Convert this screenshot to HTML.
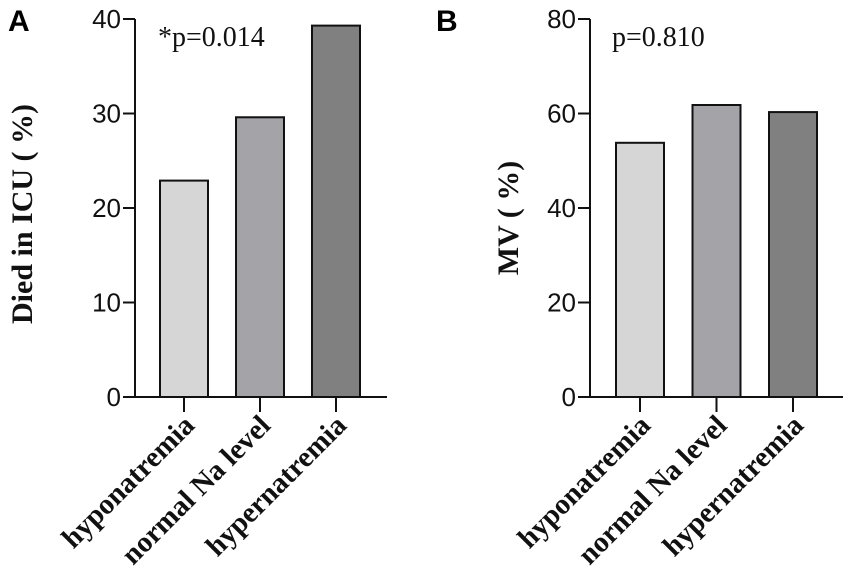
<!DOCTYPE html>
<html><head><meta charset="utf-8"><style>
body{margin:0;background:#fff}
svg{display:block}
.tick{font-family:"Liberation Sans",sans-serif;font-size:26px;fill:#111}
.cat{font-family:"Liberation Serif",serif;font-weight:bold;font-size:29px;fill:#111}
.ttl{font-family:"Liberation Serif","Noto Serif CJK SC",serif;font-weight:bold;font-size:30px;fill:#111}
.p{font-family:"Liberation Serif",serif;font-size:28px;fill:#111}
.lab{font-family:"Liberation Sans",sans-serif;font-weight:bold;font-size:30px;fill:#000}
</style></head><body>
<svg id="c" width="851" height="583"></svg>
<script>
const categories=["hyponatremia","normal Na level","hypernatremia"];
const valuesA=[22.9,29.6,39.3];
const valuesB=[53.8,61.8,60.3];
const ticksA=[0,10,20,30,40];
const ticksB=[0,20,40,60,80];
const colors=["#d6d6d6","#a3a3a8","#808080"];
const NS="http://www.w3.org/2000/svg";
const svg=document.getElementById('c');
function mk(t,a,txt){const e=document.createElementNS(NS,t);for(const k in a)e.setAttribute(k,a[k]);if(txt!=null)e.textContent=txt;svg.appendChild(e);return e;}
function panel(p){
  const y=v=>p.y0-(v/p.max)*(p.y0-p.yTop);
  const x=i=>p.x0+p.first+i*p.step;
  let e;
  p.vals.forEach((v,i)=>{
    e=mk('rect',{x:x(i)-24,y:y(v),width:48,height:y(0)-y(v),fill:colors[i],stroke:'#111','stroke-width':2});
    
    
  });
  e=mk('line',{x1:p.x0,y1:p.yTop,x2:p.x0,y2:p.y0+1,stroke:'#111','stroke-width':2});
  
  
  e=mk('line',{x1:p.x0,y1:p.y0,x2:p.xEnd,y2:p.y0,stroke:'#111','stroke-width':2});
  
  
  p.ticks.forEach(t=>{
    mk('line',{x1:p.x0-12,y1:y(t),x2:p.x0,y2:y(t),stroke:'#111','stroke-width':2});
    e=mk('text',{x:p.x0-14,y:y(t)+9,'text-anchor':'end',class:'tick'},t);
    
    
  });
  categories.forEach((c,i)=>{
    mk('line',{x1:x(i),y1:p.y0,x2:x(i),y2:p.y0+15,stroke:'#111','stroke-width':2});
    e=mk('text',{x:0,y:0,'text-anchor':'end',class:'cat',transform:`translate(${x(i)+12},${p.y0+30}) rotate(-45)`},c);
    
    
  });
  e=mk('text',{x:0,y:0,'text-anchor':'middle',class:'ttl',transform:`translate(${p.tx},${p.ty}) rotate(-90)`},p.title);
  
  
  e=mk('text',{x:p.px,y:46,class:'p'},p.ptext);
  
  
  e=mk('text',{x:p.lx,y:31,class:'lab'},p.id);
  
  
}
panel({id:'A',vals:valuesA,ticks:ticksA,max:40,x0:135,xEnd:387,y0:397,yTop:19,first:49,step:76,title:'Died in ICU ( %)',tx:32,ty:214,ptext:'*p=0.014',px:158,lx:8});
panel({id:'B',vals:valuesB,ticks:ticksB,max:80,x0:590,xEnd:843,y0:397,yTop:19,first:50,step:76.5,title:'MV ( %)',tx:518,ty:218,ptext:'p=0.810',px:612,lx:436});
</script>
</body></html>
